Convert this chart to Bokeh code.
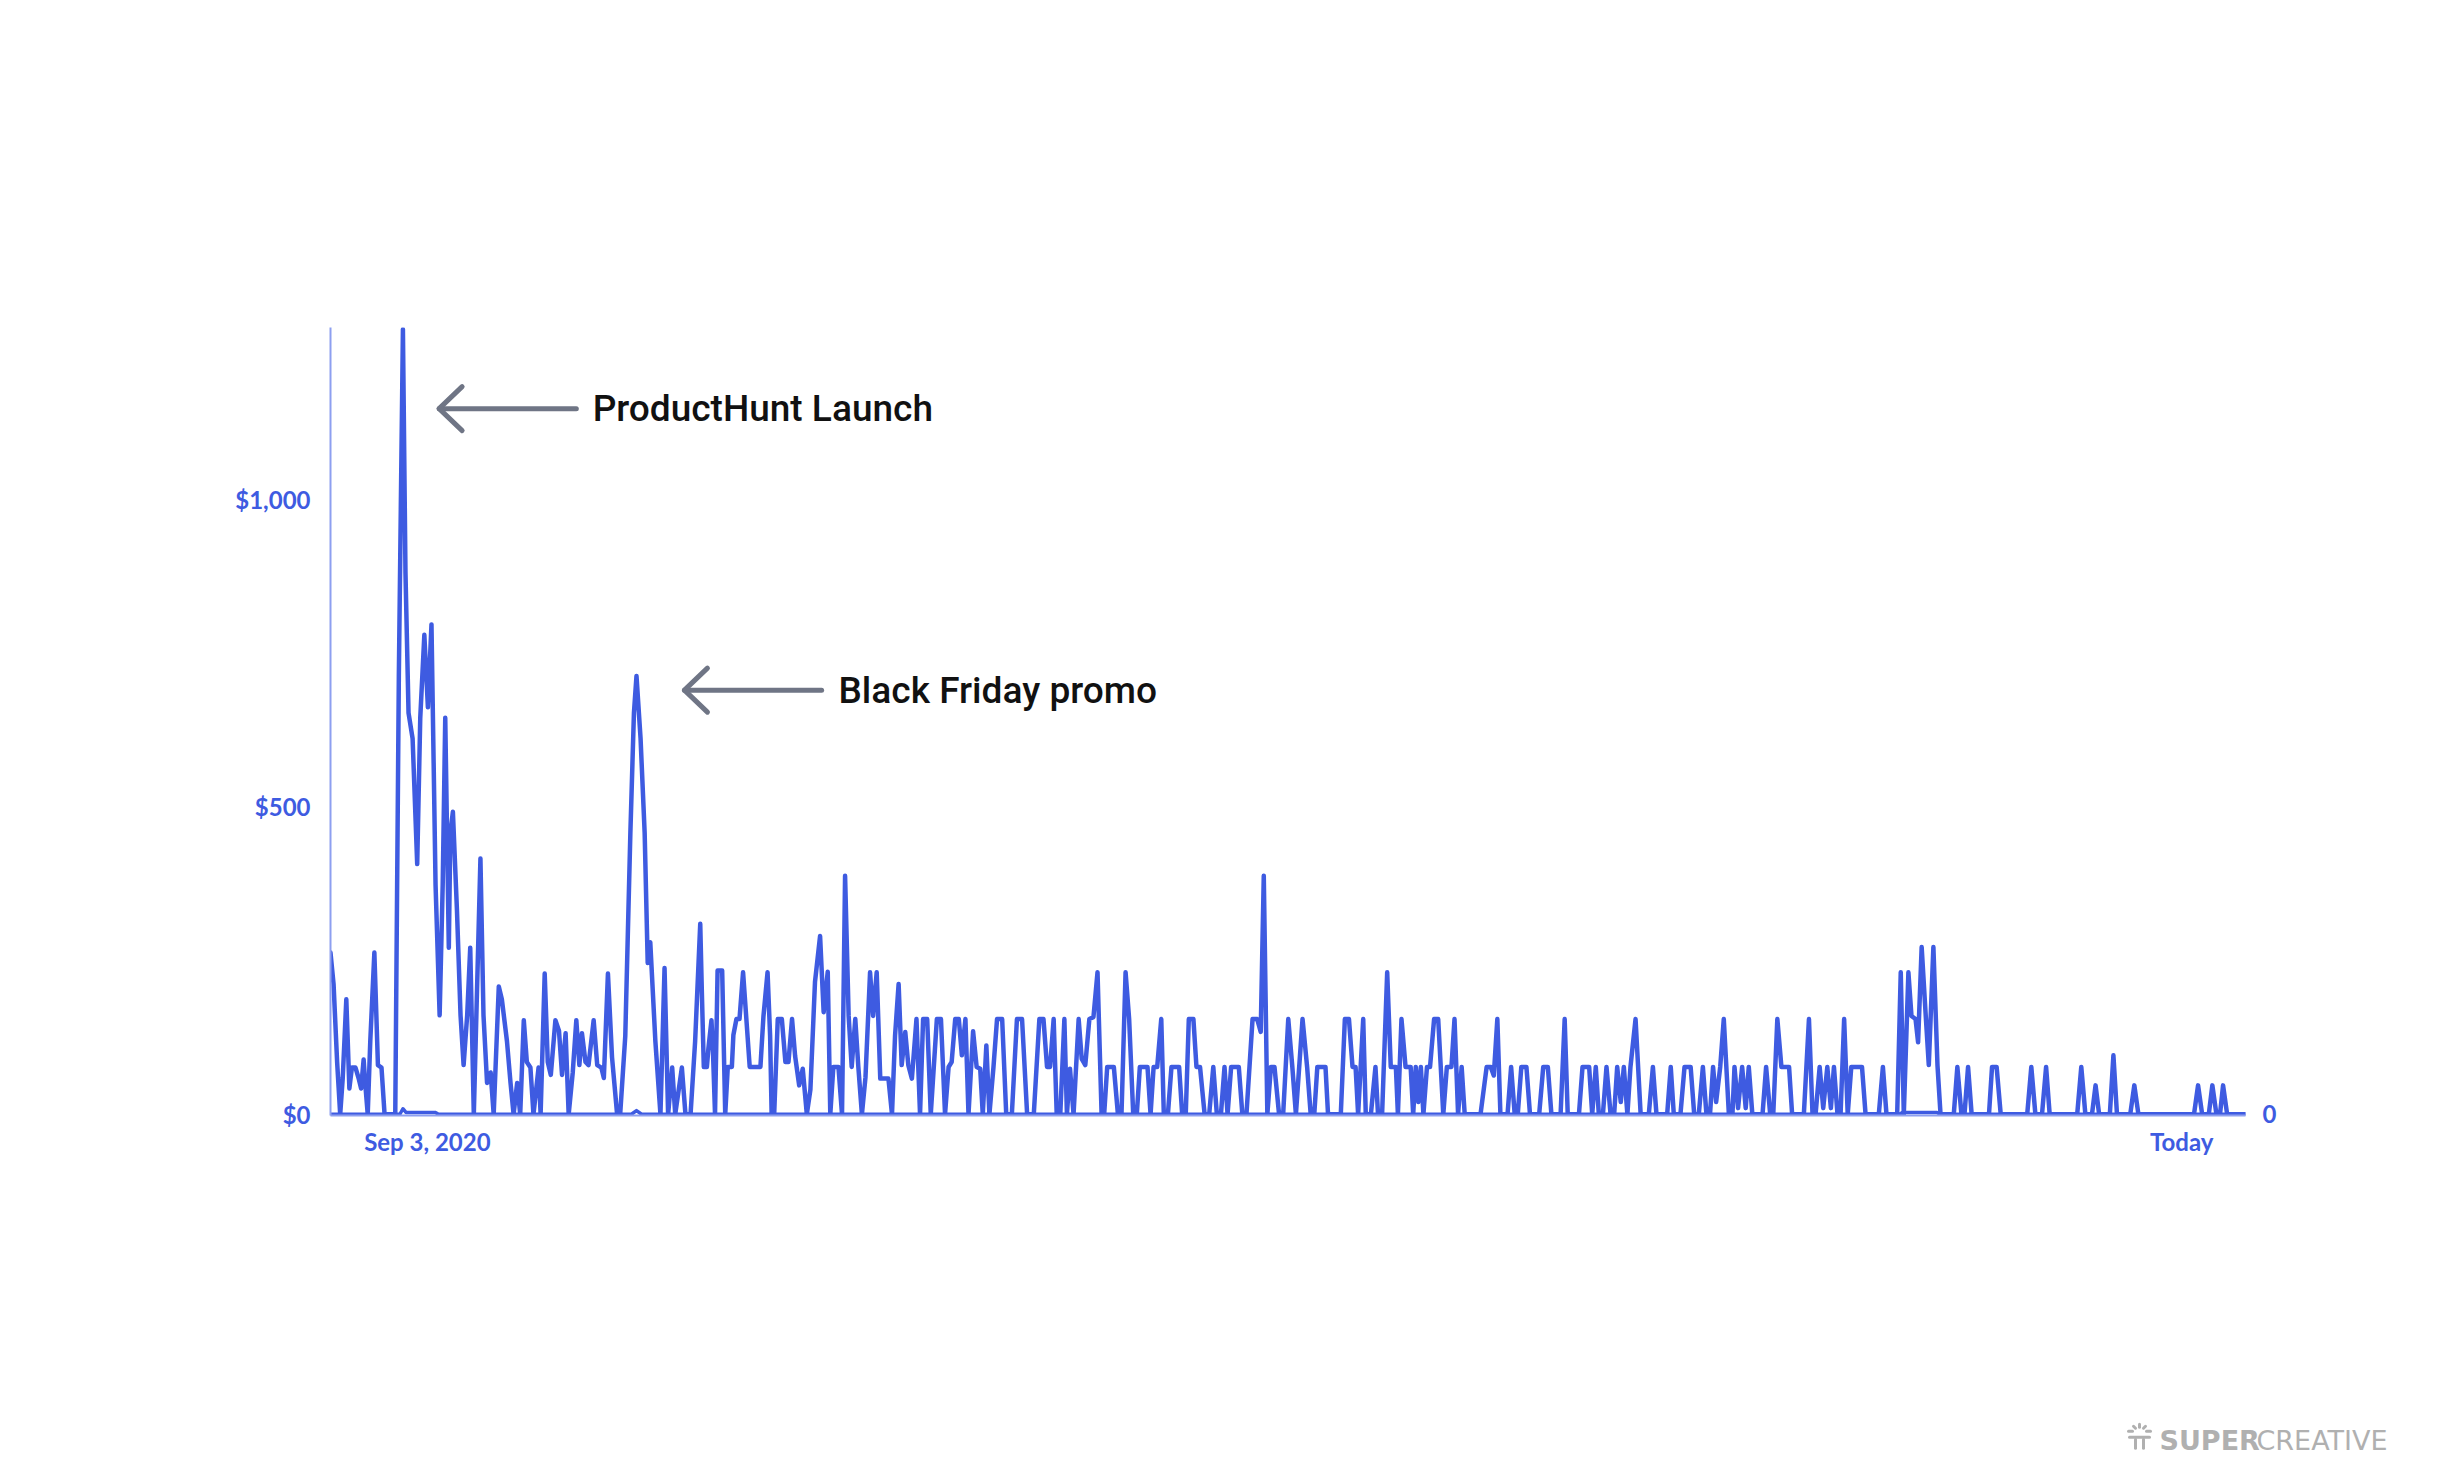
from bokeh.plotting import figure
from bokeh.models import Range1d, LinearAxis, FixedTicker, NumeralTickFormatter
from bokeh.embed import file_html
from bokeh.resources import INLINE
from bokeh.core.properties import value

# ---- data (day index since start, daily revenue in $) ----
day = [0.0, 0.6, 1.3, 1.9, 2.4, 3.1, 3.7, 4.2, 4.9, 5.5, 6.0, 6.5, 6.8, 7.3, 7.8, 8.6, 9.3, 10.0, 10.6, 12.7,
       13.4, 14.2, 14.7, 15.3, 16.1, 17.0, 17.6, 18.4, 19.1, 19.8, 20.6, 21.4, 22.0, 22.5, 23.2, 23.5, 24.0, 24.8,
       25.5, 26.1, 26.8, 27.4, 28.1, 29.4, 30.0, 30.7, 31.4, 32.0, 33.0, 33.6, 34.6, 35.3, 35.9, 36.6, 37.2, 37.9,
       38.5, 39.2, 39.8, 40.8, 41.2, 42.0, 42.6, 43.2, 44.1, 44.8, 45.4, 46.1, 46.7, 47.5, 48.2, 48.8, 49.3, 50.0,
       50.6, 51.6, 52.3, 53.1, 53.6, 54.4, 55.2, 56.2, 56.8, 57.8, 58.8, 59.5, 60.0, 60.8, 61.6, 62.2, 62.7, 63.7,
       64.7, 65.5, 66.2, 67.0, 67.6, 68.9, 69.6, 70.6, 71.5, 72.5,
       72.8, 73.2, 73.8, 74.1, 74.7, 75.0, 75.4, 75.9, 76.8, 77.4, 77.9, 78.7, 79.0, 79.6, 80.2, 80.9, 81.5, 82.2,
       84.3, 84.9, 85.7, 86.2, 86.5, 87.0, 87.7, 88.5, 89.2, 89.8, 90.5, 91.1, 91.9, 92.6, 93.4, 94.1, 95.0, 96.0,
       96.7, 97.5, 98.0, 98.6, 99.6, 100.3, 100.9, 101.6, 102.2, 102.9, 103.5, 104.2, 104.9, 105.8, 106.4, 107.1,
       107.8, 109.4, 110.1, 110.7, 111.4, 112.0, 112.7, 113.3, 114.0, 114.9, 115.6, 116.2, 117.0, 117.7, 118.9,
       119.7, 120.5, 121.2, 121.8, 122.5, 123.2, 123.8, 124.5, 125.1, 126.0, 126.7, 127.4, 127.9, 128.6, 129.2,
       130.0, 130.7, 131.7, 132.5, 133.6, 134.6, 135.6, 136.6, 137.9, 139.0, 139.8, 140.5, 141.1, 141.8, 142.4,
       143.1, 143.9, 144.4, 145.0, 145.7, 146.7, 147.3, 148.0, 148.8,
       149.6, 150.4, 151.2, 151.7, 152.3, 153.6, 154.4, 155.1, 155.9, 156.6, 157.4, 158.1, 158.7, 160.2, 160.8,
       161.4, 162.1, 162.9, 163.4, 164.2, 164.9, 166.4, 167.0, 167.7, 168.3, 169.2, 169.8, 170.5, 171.4, 172.3,
       173.1, 173.8, 174.6, 175.3, 175.9, 176.6, 178.1, 178.8, 179.6, 180.8, 181.7, 182.4, 183.0, 183.7, 184.4,
       185.1, 186.0, 186.8, 187.8, 188.6, 189.3, 190.6, 191.5, 192.2, 192.9, 193.5, 195.1, 195.6, 198.1, 198.9,
       199.7, 200.4, 201.0, 201.5, 202.5, 203.0, 204.0, 204.9, 205.4, 206.2, 207.2, 207.9, 208.9, 209.3, 210.0,
       210.8, 211.8, 212.3, 212.8, 213.3, 213.8, 214.3, 215.0, 215.6, 216.4, 217.2, 218.2, 218.9, 219.8, 220.4,
       221.1, 221.8, 222.4,
       225.5, 226.7, 227.5, 228.1, 228.8, 229.4, 230.8, 231.5, 232.2, 232.8, 233.5, 234.5, 235.2, 237.0, 237.8,
       238.7, 239.4, 241.2, 242.0, 242.6, 244.8, 245.5, 246.8, 247.4, 248.1, 248.7, 249.5, 250.2, 251.0, 251.7,
       252.3, 253.0, 253.6, 254.3, 254.9, 255.9, 256.9, 258.5, 259.3, 260.0, 262.1, 262.8, 263.4, 264.7, 265.5,
       266.7, 267.4, 268.3, 269.1, 269.8, 270.5, 271.1, 271.7, 272.5, 273.2, 274.2, 274.9, 275.3, 276.0, 276.8,
       277.5, 278.1, 278.8, 280.8, 281.5, 282.3, 282.9, 283.7, 284.5, 286.0, 286.6, 288.9, 289.9, 290.6, 291.2,
       292.0, 292.7, 293.5, 294.2, 294.8, 295.5, 296.1, 296.8,
       297.5, 298.2, 300.3, 301.0, 303.6, 304.4, 305.1, 307.2, 307.9, 308.5, 309.4, 310.0, 310.8, 311.3, 312.0,
       312.8, 313.4, 314.3, 315.1, 315.7, 318.3, 319.0, 319.8, 320.4, 321.1, 321.8, 325.2, 325.8, 326.7, 327.5,
       332.7, 333.5, 334.3, 335.6, 336.4, 337.1, 342.5, 343.3, 344.1, 345.4, 346.1, 346.8, 348.9, 349.6, 350.3,
       352.9, 353.7, 354.5, 365.4, 366.2, 367.0, 368.3, 369.0, 369.8, 370.5, 371.1, 371.9, 375.5]

revenue = [263, 212, 85, 0, 59, 187, 42, 76, 76, 59, 42, 89, 51, 0, 119, 263, 80, 76, 0, 0,
           713, 1277, 882, 653, 611, 407, 645, 780, 662, 797, 373, 161, 373, 645, 271, 458, 492, 331,
           161, 80, 161, 271, 0, 416, 161, 51, 68, 0, 208, 187, 119, 51, 0, 51, 0, 153,
           85, 76, 0, 76, 0, 229, 85, 64, 153, 136, 64, 132, 0, 68, 153, 80, 132, 85,
           80, 153, 80, 76, 59, 229, 93, 0, 0, 127, 458, 653, 713, 611, 458, 246, 280, 119,
           0, 238, 0, 76, 0, 76, 0, 0, 119, 310,
           204, 77, 77, 107, 153, 101, 0, 234, 234, 0, 77, 77, 129, 155, 155, 231, 160, 77,
           77, 160, 231, 128, 0, 0, 155, 155, 85, 85, 155, 95, 47, 74, 0, 40, 215, 290,
           166, 232, 0, 77, 77, 0, 388, 160, 77, 155, 77, 0, 60, 231, 160, 231,
           58, 58, 0, 128, 212, 80, 134, 80, 58, 155, 0, 155, 155, 0, 155,
           155, 0, 77, 85, 155, 155, 96, 155, 0, 135, 77, 74, 0, 112, 0,
           77, 155, 155, 0, 0, 155, 155, 0, 0, 155, 155, 77, 77, 155, 0,
           0, 155, 0, 74, 0, 155, 90, 80, 155,
           158, 231, 0, 0, 77, 77, 0, 0, 231, 155, 0, 0, 77, 77, 0,
           77, 77, 155, 0, 0, 77, 77, 0, 0, 155, 155, 77, 77, 0, 0,
           77, 0, 0, 77, 0, 77, 77, 0, 0, 155, 155, 134, 388, 0, 77,
           77, 0, 0, 155, 77, 0, 155, 77, 0, 0, 77, 77, 0, 0, 155,
           155, 77, 77, 0, 155, 0, 0, 77, 0, 0, 231, 77, 77, 0, 155,
           77, 77, 0, 77, 20, 77, 0, 77, 77, 155, 155, 0, 77, 77, 155,
           0, 77, 0,
           0, 77, 77, 63, 155, 0, 0, 77, 0, 0, 77, 77, 0, 0, 77,
           77, 0, 0, 155, 0, 0, 77, 77, 0, 77, 0, 0, 77, 0, 0,
           77, 20, 77, 0, 77, 155, 0, 0, 77, 0, 0, 77, 0, 0, 77,
           77, 0, 0, 77, 0, 0, 77, 20, 77, 155, 0, 0, 77, 10, 77,
           10, 77, 0, 0, 77, 0, 0, 155, 77, 77, 0, 0, 155, 0, 0,
           77, 10, 77, 10, 77, 0, 0, 155,
           0, 77, 77, 0, 0, 77, 0, 0, 231, 0, 231, 160, 155, 117, 272,
           160, 80, 272, 80, 0, 0, 77, 0, 0, 77, 0, 0, 77, 77, 0,
           0, 77, 0, 0, 77, 0, 0, 77, 0, 0, 47, 0, 0, 96, 0,
           0, 47, 0, 0, 47, 0, 0, 47, 0, 0, 47, 0, 0]

# secondary (near-zero) series
other_day = [0, 13.6, 14.2, 14.8, 20.5, 21.2, 59.0, 60.0, 61.0, 307.6, 308.3, 315.0, 315.6, 375.5]
other_revenue = [0, 0, 9, 3, 3, 0, 0, 6, 0, 0, 3, 3, 0, 0]

y_ticks = [0, 500, 1000]
x_tick_days = [19, 363]
x_tick_labels = ["Sep 3, 2020", "Today"]
right_ticks = [0]

# annotations: label, arrow tip day, arrow tail day, level, text day
notes = [("ProductHunt Launch", 21.3, 48.2, 1148, 51.4),
         ("Black Friday promo", 69.4, 96.3, 690, 99.6)]

BLUE = "#3e5be1"
AXIS = "#8d9ff0"
GREY = "#6f7585"

X_END = 375.5
Y_END = 1280
FRAME_W, FRAME_H = 1915, 788
px_x = X_END / FRAME_W           # days per pixel
px_y = (Y_END + 2) / FRAME_H     # $ per pixel

p = figure(width=2426, height=1468, output_backend="svg", toolbar_location=None,
           x_range=Range1d(0, X_END), y_range=Range1d(-2, Y_END),
           min_border_left=330, min_border_right=181, min_border_top=327, min_border_bottom=353)
p.outline_line_color = None
p.grid.visible = False
p.background_fill_color = "white"
p.border_fill_color = "white"

# axes
for ax in (p.xaxis[0], p.yaxis[0]):
    ax.axis_line_color = AXIS
    ax.axis_line_width = 2
    ax.major_tick_line_color = None
    ax.minor_tick_line_color = None
    ax.major_label_text_font = "Lato"
    ax.major_label_text_font_style = "bold"
    ax.major_label_text_font_size = "24px"
    ax.major_label_text_color = BLUE

p.yaxis[0].ticker = FixedTicker(ticks=y_ticks)
p.yaxis[0].formatter = NumeralTickFormatter(format="$0,0")
p.yaxis[0].major_label_standoff = 14

p.xaxis[0].ticker = FixedTicker(ticks=x_tick_days)
p.xaxis[0].major_label_overrides = dict(zip(x_tick_days, x_tick_labels))
p.xaxis[0].major_label_standoff = 5

ra = LinearAxis(ticker=FixedTicker(ticks=right_ticks), axis_line_color=None,
                major_tick_line_color=None, minor_tick_line_color=None,
                major_label_text_font="Lato", major_label_text_font_style="bold",
                major_label_text_font_size="24px",
                major_label_text_color=BLUE, major_label_standoff=11)
p.add_layout(ra, "right")

# data lines
p.line(other_day, other_revenue, line_color=BLUE, line_width=3.5, line_join="round")
p.line(day, revenue, line_color=BLUE, line_width=4.5, line_join="round", line_cap="round")

# annotation arrows + text
arm_dx = 23 * px_x
arm_dy = 22 * px_y
xs, ys = [], []
for label, tip, tail, lvl, tx in notes:
    xs.append([tail, tip])
    ys.append([lvl, lvl])
    xs.append([tip + arm_dx, tip, tip + arm_dx])
    ys.append([lvl + arm_dy, lvl, lvl - arm_dy])
p.multi_line(xs, ys, line_color=GREY, line_width=5, line_cap="round", line_join="round")
p.text(x=[n[4] for n in notes], y=[n[3] for n in notes], text=[n[0] for n in notes],
       text_font=value("Roboto Medium, Roboto"), text_font_size="37px", text_color="#111111",
       text_baseline="middle", text_align="left")

# logo (bottom right, outside the frame -> drawn at overlay level so it is not clipped)
LOGO_GREY = "#b0b0b0"
logo_x = X_END + (2159 - 2245) * px_x
logo_y = -(1441 - 1115) * px_y
p.text(x=[logo_x], y=[logo_y], text=["SUPER"], text_font=value("DejaVu Sans"),
       text_font_style="bold", text_font_size="27px", text_color=LOGO_GREY,
       text_baseline="middle", text_align="left", level="overlay")
p.text(x=[logo_x + 97 * px_x], y=[logo_y], text=["CREATIVE"], text_font=value("DejaVu Sans"),
       text_font_size="27px", text_color=LOGO_GREY, text_baseline="middle", text_align="left",
       level="overlay")
icx = logo_x - 20 * px_x
icy = logo_y
icon = [((-10, -3), (10, -3)), ((-4, -1), (-4, 8)), ((4, -1), (4, 8)),
        ((-11, -9), (-7, -9)), ((7, -9), (11, -9)),
        ((-6, -14), (-4, -12)), ((6, -14), (4, -12)), ((0, -16), (0, -13))]
p.multi_line([[icx + a[0] * px_x, icx + b[0] * px_x] for a, b in icon],
             [[icy - a[1] * px_y, icy - b[1] * px_y] for a, b in icon],
             line_color=LOGO_GREY, line_width=3, line_cap="round", level="overlay")

open("out.html", "w").write(file_html(p, INLINE))
